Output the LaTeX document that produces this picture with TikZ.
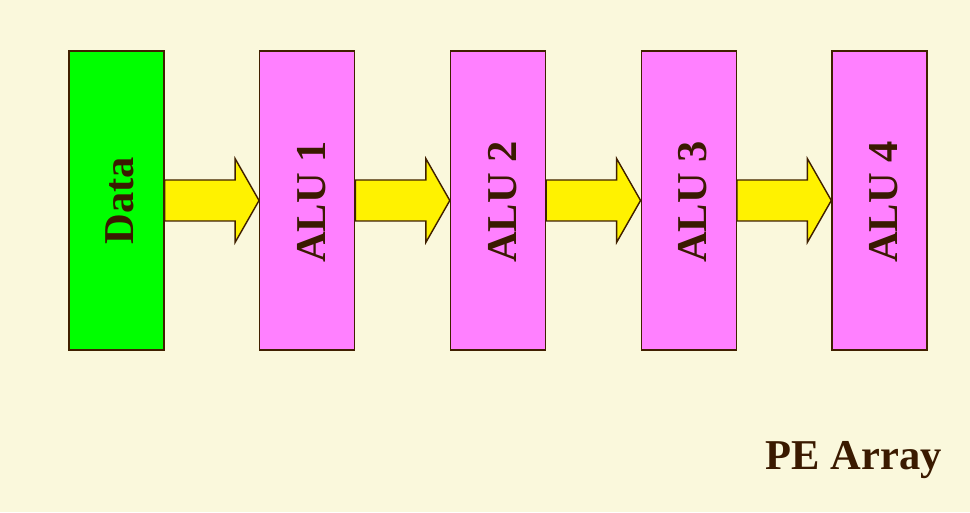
\documentclass[tikz,border=0pt]{standalone}
\usepackage{fontspec}
\setmainfont{Liberation Serif}
\usetikzlibrary{positioning}

\definecolor{bgcream}{RGB}{250,248,220}
\definecolor{edgebrown}{RGB}{64,32,0}
\definecolor{textbrown}{RGB}{58,26,0}
\definecolor{alupink}{RGB}{255,128,255}
\definecolor{datagreen}{RGB}{0,255,0}

\tikzset{
	unit/.style = {draw = edgebrown, line width = 1.4pt, minimum width = 95pt, minimum height = 299pt, inner sep = 0pt},
	unittext/.style = {rotate = 90, anchor = base, text = textbrown, inner sep = 0pt, font = \fontsize{42.5}{46}\selectfont\bfseries},
	flow/.style = {draw = edgebrown, line width = 1.4pt, fill = yellow, line join = miter}
}

% block arrow between two units
\newcommand{\flowarrow}[2]{%
	\draw[flow] ([yshift=20.5pt]#1.east) -- ([xshift=-24pt, yshift=20.5pt]#2.west)
		-- ([xshift=-24pt, yshift=42pt]#2.west) -- (#2.west)
		-- ([xshift=-24pt, yshift=-42pt]#2.west) -- ([xshift=-24pt, yshift=-20.5pt]#2.west)
		-- ([yshift=-20.5pt]#1.east) -- cycle;
}

\begin{document}
\begin{tikzpicture}[x = 1pt, y = 1pt]
	% background
	\fill[bgcream] (0,0) rectangle (970,512);
	\useasboundingbox (0,0) rectangle (970,512);
	
	% data source
	\node[unit, fill = datagreen] (data) at (116.5,311.5) {};
	\node[unittext] at ([xshift=17pt]data.center) {Data};
	
	% ALUs
	\foreach \i/\prev in {1/data, 2/alu1, 3/alu2, 4/alu3}{
		\node[unit, fill = alupink, right = 94.35pt of \prev] (alu\i) {};
		\node[unittext] at ([xshift=18pt, yshift=-1.5pt]alu\i.center) {ALU \i};
		\flowarrow{\prev}{alu\i}
	}
	
	% caption
	\node[anchor = base east, inner sep = 0pt, text = textbrown, font = \fontsize{42.5}{46}\selectfont\bfseries] (caption) at (942,43) {PE Array};
\end{tikzpicture}
\end{document}
